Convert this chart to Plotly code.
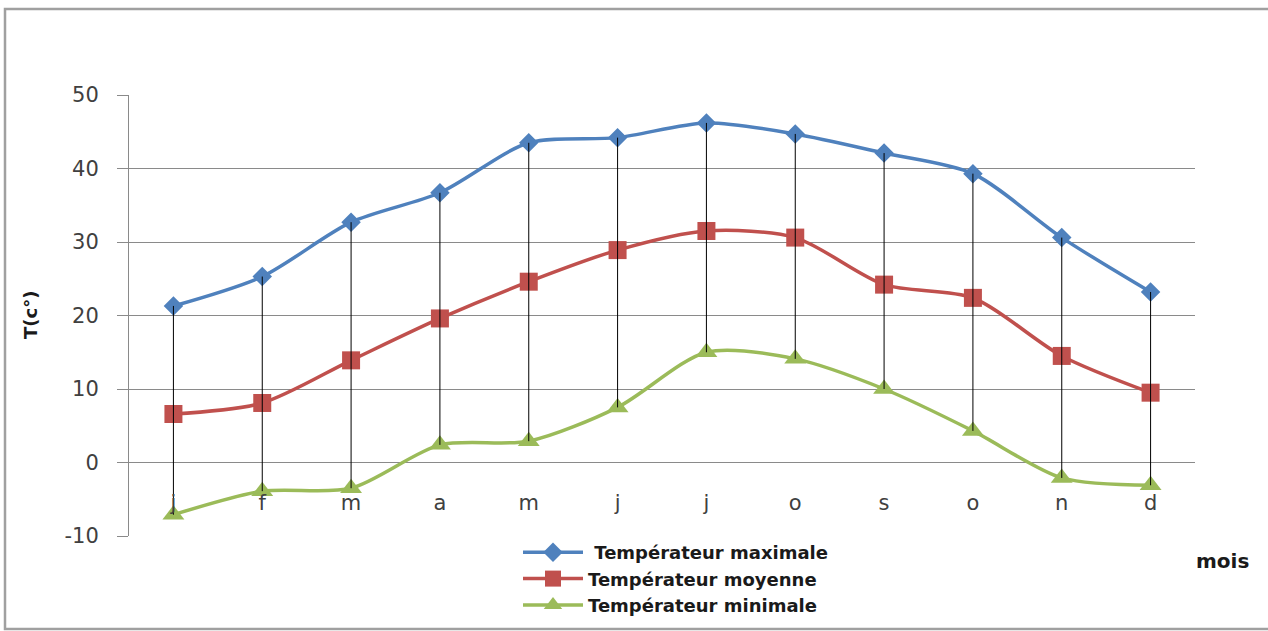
import plotly.graph_objects as go

months = ["j", "f", "m", "a", "m", "j", "j", "o", "s", "o", "n", "d"]
t_max = [21.3, 25.3, 32.7, 36.7, 43.5, 44.2, 46.2, 44.7, 42.1, 39.3, 30.6, 23.2]
t_moy = [6.6, 8.1, 13.9, 19.6, 24.6, 28.9, 31.5, 30.6, 24.2, 22.4, 14.5, 9.5]
t_min = [-7.1, -3.9, -3.5, 2.4, 2.9, 7.5, 15.0, 14.1, 10.0, 4.3, -2.1, -3.1]
names = ["\u00a0Températeur maximale", "Températeur moyenne", "Températeur minimale"]
y_ticks = [-10, 0, 10, 20, 30, 40, 50]
y_tick_text = ["-10", "0", "10", "20", "30", "40", "50"]

idx = list(range(len(months)))

W, H = 1268, 631
L, R, T, B = 129, 73, 95, 95
PW, PH = W - L - R, H - T - B

def px_x(p):
    return (p - L) / PW

def px_y(p):
    return (H - B - p) / PH

fig = go.Figure()

specs = [
    (t_max, "#4F81BD", "diamond", 15),
    (t_moy, "#C0504D", "square", 18),
    (t_min, "#9BBB59", "triangle-up", 19),
]
for (vals, col, sym, sz), nm in zip(specs, names):
    fig.add_trace(go.Scatter(
        x=idx, y=vals, name=nm, mode="lines+markers",
        line=dict(color=col, width=3.5, shape="spline", smoothing=0.8),
        marker=dict(symbol=sym, size=sz, color=col),
    ))

# high-low lines
hx, hy = [], []
for i, hi, lo in zip(idx, t_max, t_min):
    hx += [i, i, None]
    hy += [hi, lo, None]
fig.add_trace(go.Scatter(x=hx, y=hy, mode="lines", showlegend=False,
                         line=dict(color="black", width=1), hoverinfo="skip"))

fig.update_layout(
    width=W, height=H,
    margin=dict(l=L, r=R, t=T, b=B, autoexpand=False),
    paper_bgcolor="white", plot_bgcolor="white",
    font=dict(family="DejaVu Sans", color="#404040"),
    xaxis=dict(
        range=[-0.5, len(months) - 0.5],
        tickmode="array", tickvals=idx, ticktext=months,
        showgrid=False, zeroline=False, showline=False, ticks="",
        anchor="free", position=0.109,
        tickfont=dict(size=21, color="#404040", family="DejaVu Sans"),
    ),
    yaxis=dict(
        range=[-10, 50], tickmode="array", tickvals=y_ticks, ticktext=y_tick_text,
        showgrid=True, gridcolor="#8a8a8a", gridwidth=1,
        zeroline=False, showline=True, linecolor="#8a8a8a", linewidth=1,
        ticks="outside", ticklen=11, tickcolor="#8a8a8a",
        ticklabelstandoff=14,
        tickfont=dict(size=21, color="#404040", family="DejaVu Sans"),
    ),
    legend=dict(
        x=px_x(518), y=px_y(534), xanchor="left", yanchor="top",
        font=dict(size=18, color="#1a1a1a", family="DejaVu Sans", weight="bold"),
        itemwidth=60, bgcolor="rgba(0,0,0,0)", borderwidth=0,
        tracegroupgap=0,
    ),
    showlegend=True,
    annotations=[
        dict(text="<b>T(c°)</b>", xref="paper", yref="paper",
             x=px_x(30), y=px_y(315), xanchor="center", yanchor="middle",
             textangle=-90, showarrow=False,
             font=dict(size=18, color="#1a1a1a", family="DejaVu Sans")),
        dict(text="<b>mois</b>", xref="paper", yref="paper",
             x=px_x(1222), y=px_y(561), xanchor="center", yanchor="middle",
             showarrow=False,
             font=dict(size=20, color="#1a1a1a", family="DejaVu Sans")),
    ],
    shapes=[
        dict(type="rect", xref="paper", yref="paper",
             x0=px_x(5), x1=px_x(1290), y0=px_y(629), y1=px_y(9),
             line=dict(color="#a0a0a0", width=2.5), layer="below"),
    ],
)

fig.write_html("out.html")
